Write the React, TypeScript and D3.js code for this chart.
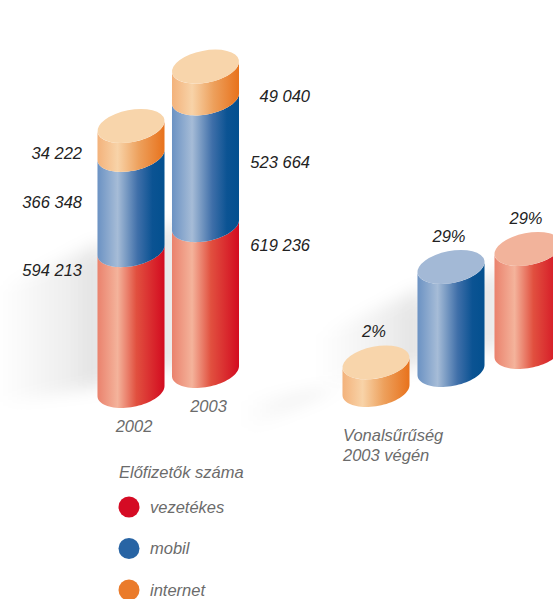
import React from 'react';
import * as d3 from 'd3';

// ---- data ----
const years = ['2002', '2003'];
const vezetekes = [594213, 619236];
const mobil = [366348, 523664];
const internet = [34222, 49040];
const seriesNames = ['vezetékes', 'mobil', 'internet'];
const densityNames = ['internet', 'mobil', 'vezetékes'];
const densityValues = [2, 29, 29];
const legendTitle = 'Előfizetők száma';
const densityCaption = ['Vonalsűrűség', '2003 végén'];

// ---- layout ----
const W = 553;
const H = 599;
const RX = 34;
const RY = 16;
const THETA = (-11 * Math.PI) / 180;
const FONT = '"Liberation Sans", Arial, Helvetica, sans-serif';

const styles: Record<string, { side: [number, string][]; top: string; legend: string; id: string }> = {
  'vezetékes': {
    side: [[0, '#ea826d'], [0.3, '#f4b39b'], [0.58, '#e1503f'], [1, '#d30b20']],
    top: '#f2b39b',
    legend: '#d50b24',
    id: 'gRed',
  },
  mobil: {
    side: [[0, '#6b92c3'], [0.3, '#a6bcd7'], [0.6, '#3f6fa9'], [0.82, '#0b5393'], [1, '#03508f']],
    top: '#a3b9d6',
    legend: '#2864a4',
    id: 'gBlue',
  },
  internet: {
    side: [[0, '#f3b27b'], [0.3, '#f8d3a8'], [0.62, '#eda05c'], [1, '#e8721c']],
    top: '#f8d5ab',
    legend: '#ea7b2b',
    id: 'gOrange',
  },
};

const fmt = d3
  .formatLocale({ decimal: ',', thousands: ' ', grouping: [3], currency: ['', ''] })
  .format(',d');

// stacked cylinder scale (each segment has a base thickness)
const hScale = d3.scaleLinear().domain([0, 1000000]).range([22, 222]);
const pScale = d3.scaleLinear().domain([0, 29]).range([22, 103]);

const leftCx = [131, 205.5];
const leftBase = [391, 371];
const rightCx = [376, 451, 528];
const rightBase = [390, 370, 352];

function pt(cx: number, cy: number, t: number): [number, number] {
  return [
    cx + RX * Math.cos(t) * Math.cos(THETA) - RY * Math.sin(t) * Math.sin(THETA),
    cy + RX * Math.cos(t) * Math.sin(THETA) + RY * Math.sin(t) * Math.cos(THETA),
  ];
}
const T0 = Math.atan2(-RY * Math.sin(THETA), RX * Math.cos(THETA));
function lowerArc(cx: number, cy: number): [number, number][] {
  return d3.range(0, 41).map((i) => pt(cx, cy, T0 + (Math.PI * i) / 40));
}
const line = d3.line();
function sidePath(cx: number, yTop: number, yBot: number) {
  const pts = [...lowerArc(cx, yTop), ...lowerArc(cx, yBot).reverse()];
  return line(pts) + 'Z';
}

type Seg = { name: string; yb: number; yt: number; value: number };

function Cylinder({ cx, segs }: { cx: number; segs: Seg[] }) {
  const top = segs[segs.length - 1];
  return (
    <g>
      {segs.map((s, i) => (
        <path key={i} d={sidePath(cx, s.yt, s.yb)} fill={`url(#${styles[s.name].id})`} />
      ))}
      <ellipse
        cx={cx}
        cy={top.yt}
        rx={RX}
        ry={RY}
        fill={styles[top.name].top}
        transform={`rotate(${(THETA * 180) / Math.PI} ${cx} ${top.yt})`}
      />
    </g>
  );
}

function Shadow({ cx, yTop, yBot }: { cx: number; yTop: number; yBot: number }) {
  const L = 105;
  const x0 = cx - RX + 6;
  const yT = Math.max(yTop + 20, yBot - 150);
  const pts: [number, number][] = [
    [x0, yT],
    [x0, yBot - 4],
    [x0 - L, yBot + 12],
    [x0 - L, yT + 50],
  ];
  return <path d={line(pts) + 'Z'} fill="url(#shadowGrad)" filter="url(#blur)" />;
}

export default function App() {
  const values: Record<string, number[]> = {
    'vezetékes': vezetekes,
    mobil: mobil,
    internet: internet,
  };

  const leftCyl = years.map((y, i) => {
    const heights = seriesNames.map((n) => hScale(values[n][i]));
    const cum = Array.from(d3.cumsum(heights));
    const segs: Seg[] = seriesNames.map((n, j) => ({
      name: n,
      yb: leftBase[i] - (j === 0 ? 0 : cum[j - 1]),
      yt: leftBase[i] - cum[j],
      value: values[n][i],
    }));
    return { year: y, cx: leftCx[i], base: leftBase[i], segs };
  });

  const rightCyl = densityNames.map((n, i) => ({
    name: n,
    cx: rightCx[i],
    base: rightBase[i],
    top: rightBase[i] - pScale(densityValues[i]),
    value: densityValues[i],
  }));

  const labelY = (s: Seg) => {
    const h = s.yb - s.yt;
    if (s.name === 'vezetékes') return s.yt + 20;
    if (s.name === 'internet') return s.yb - 2;
    return s.yt + h / 2;
  };

  return (
    <svg
      width={W}
      height={H}
      style={{ position: 'absolute', left: 0, top: 0, background: '#fff' }}
      fontFamily={FONT}
    >
      <defs>
        {Object.values(styles).map((s) => (
          <linearGradient key={s.id} id={s.id} x1="0" x2="1" y1="0" y2="0">
            {s.side.map(([o, c], i) => (
              <stop key={i} offset={o} stopColor={c} />
            ))}
          </linearGradient>
        ))}
        <linearGradient id="shadowGrad" x1="1" x2="0" y1="0" y2="0">
          <stop offset="0" stopColor="#000" stopOpacity={0.1} />
          <stop offset="1" stopColor="#000" stopOpacity={0} />
        </linearGradient>
        <filter id="blur" x="-50%" y="-50%" width="200%" height="200%">
          <feGaussianBlur stdDeviation="8" />
        </filter>
      </defs>

      {/* shadows */}
      {leftCyl.map((c, i) => (
        <Shadow key={i} cx={c.cx} yTop={c.segs[2].yt} yBot={c.base} />
      ))}
      {rightCyl.map((c, i) => (
        <Shadow key={i} cx={c.cx} yTop={c.top} yBot={c.base} />
      ))}

      {/* stacked cylinders */}
      {leftCyl.map((c, i) => (
        <Cylinder key={i} cx={c.cx} segs={c.segs} />
      ))}

      {/* density cylinders */}
      {rightCyl.map((c, i) => (
        <Cylinder key={i} cx={c.cx} segs={[{ name: c.name, yb: c.base, yt: c.top, value: c.value }]} />
      ))}

      {/* value labels */}
      <g fontStyle="italic" fontSize={16.5} fill="#222">
        {leftCyl[0].segs.map((s, j) => (
          <text key={'l' + j} x={82} y={labelY(s)} dy="0.35em" textAnchor="end">
            {fmt(s.value)}
          </text>
        ))}
        {leftCyl[1].segs.map((s, j) => (
          <text key={'r' + j} x={310} y={labelY(s)} dy="0.35em" textAnchor="end">
            {fmt(s.value)}
          </text>
        ))}
        {rightCyl.map((c, i) => (
          <text key={'p' + i} x={c.cx - 2} y={c.top - 31} dy="0.35em" textAnchor="middle">
            {`${c.value}%`}
          </text>
        ))}
      </g>

      {/* year labels */}
      <g fontStyle="italic" fontSize={16.5} fill="#6b6b6b">
        {leftCyl.map((c, i) => (
          <text key={i} x={c.cx + 3} y={c.base + 35} dy="0.35em" textAnchor="middle">
            {c.year}
          </text>
        ))}
        {densityCaption.map((t, i) => (
          <text key={'c' + i} x={343} y={435 + i * 20} dy="0.35em">
            {t}
          </text>
        ))}
      </g>

      {/* legend */}
      <g fontStyle="italic" fontSize={16.5} fill="#6b6b6b">
        <text x={119} y={472} dy="0.35em">
          {legendTitle}
        </text>
        {seriesNames.map((n, i) => (
          <g key={n} transform={`translate(0, ${507 + i * 41.5})`}>
            <circle cx={129} cy={0} r={10.5} fill={styles[n].legend} />
            <text x={150} y={0} dy="0.35em">
              {n}
            </text>
          </g>
        ))}
      </g>
    </svg>
  );
}
